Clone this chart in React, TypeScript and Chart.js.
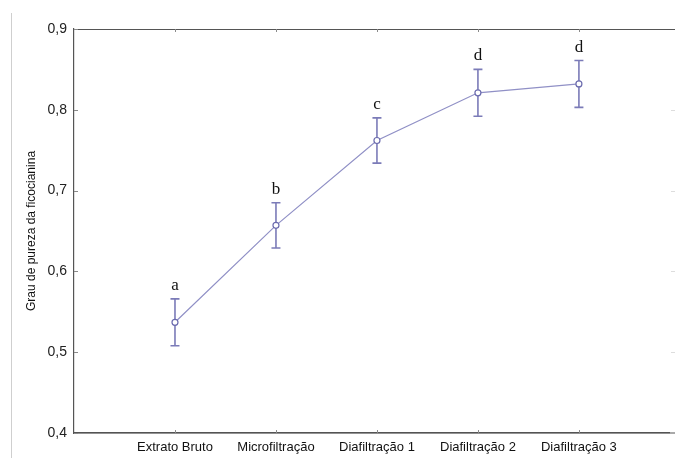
import React, { useEffect, useRef } from "react";
import { Chart, registerables } from "chart.js";

Chart.register(...registerables);

const categories = ["Extrato Bruto", "Microfiltração", "Diafiltração 1", "Diafiltração 2", "Diafiltração 3"];
const means = [0.537, 0.657, 0.762, 0.821, 0.832];
const errors = [0.029, 0.028, 0.028, 0.029, 0.029];
const letters = ["a", "b", "c", "d", "d"];
const yTicks = [0.4, 0.5, 0.6, 0.7, 0.8, 0.9];
const yTitle = "Grau de pureza da ficocianina";

const AXIS = "#555555";
const BAR = "#7b7bb8";
const LINE = "#9090c6";
const PT = "#6b6bae";

const decorPlugin = {
  id: "decor",
  beforeDatasetsDraw(chart: any) {
    const { ctx, chartArea, scales } = chart;
    const xs = scales.x;
    const ys = scales.y;
    ctx.save();
    // page-edge grey line
    ctx.strokeStyle = "#cfcfcf";
    ctx.lineWidth = 1;
    ctx.beginPath();
    ctx.moveTo(11.5, 13);
    ctx.lineTo(11.5, chart.height);
    ctx.stroke();
    // top and bottom frame to the page edge
    ctx.strokeStyle = AXIS;
    ctx.lineWidth = 1.2;
    ctx.beginPath();
    ctx.moveTo(chartArea.left, chartArea.top + 0.5);
    ctx.lineTo(chart.width, chartArea.top + 0.5);
    ctx.moveTo(chartArea.left, chartArea.bottom);
    ctx.lineTo(chart.width, chartArea.bottom);
    ctx.stroke();
    // inner ticks
    ctx.strokeStyle = "#8a8a8a";
    ctx.lineWidth = 1;
    ctx.beginPath();
    yTicks.forEach((v) => {
      const y = Math.round(ys.getPixelForValue(v)) + 0.5;
      ctx.moveTo(chartArea.left, y);
      ctx.lineTo(chartArea.left + 4, y);
    });
    categories.forEach((_, i) => {
      const x = Math.round(xs.getPixelForValue(i + 1)) + 0.5;
      ctx.moveTo(x, chartArea.bottom);
      ctx.lineTo(x, chartArea.bottom - 3);
      ctx.moveTo(x, chartArea.top);
      ctx.lineTo(x, chartArea.top + 3);
    });
    ctx.stroke();
    ctx.strokeStyle = "#dddddd";
    ctx.beginPath();
    yTicks.slice(1, -1).forEach((v) => {
      const y = Math.round(ys.getPixelForValue(v)) + 0.5;
      ctx.moveTo(chart.width, y);
      ctx.lineTo(chart.width - 4, y);
    });
    ctx.stroke();
    // error bars
    ctx.strokeStyle = BAR;
    ctx.lineWidth = 1.6;
    ctx.beginPath();
    means.forEach((m, i) => {
      const x = xs.getPixelForValue(i + 1);
      const yt = ys.getPixelForValue(m + errors[i]);
      const yb = ys.getPixelForValue(m - errors[i]);
      ctx.moveTo(x, yt);
      ctx.lineTo(x, yb);
      ctx.moveTo(x - 4.5, yt);
      ctx.lineTo(x + 4.5, yt);
      ctx.moveTo(x - 4.5, yb);
      ctx.lineTo(x + 4.5, yb);
    });
    ctx.stroke();
    // letters
    ctx.fillStyle = "#111111";
    ctx.font = "17px 'Liberation Serif', serif";
    ctx.textAlign = "center";
    ctx.textBaseline = "alphabetic";
    letters.forEach((l, i) => {
      const x = xs.getPixelForValue(i + 1);
      const yt = ys.getPixelForValue(means[i] + errors[i]);
      ctx.fillText(l, x, yt - 9);
    });
    ctx.restore();
  },
};

export default function App() {
  const ref = useRef<HTMLCanvasElement>(null);
  useEffect(() => {
    if (!ref.current) return;
    const chart = new Chart(ref.current, {
      type: "line",
      data: {
        datasets: [
          {
            data: means.map((m, i) => ({ x: i + 1, y: m })),
            borderColor: LINE,
            borderWidth: 1.2,
            pointRadius: 3,
            pointBackgroundColor: "#ffffff",
            pointBorderColor: PT,
            pointBorderWidth: 1.2,
            tension: 0,
          },
        ],
      },
      options: {
        responsive: false,
        animation: false,
        layout: { padding: { top: 29, left: 0, right: 0, bottom: 0 } },
        plugins: { legend: { display: false }, tooltip: { enabled: false } },
        scales: {
          x: {
            type: "linear",
            min: 0,
            max: 5.9,
            afterBuildTicks: (s: any) => {
              s.ticks = categories.map((_, i) => ({ value: i + 1 }));
            },
            afterFit: (s: any) => {
              s.height = 25;
            },
            ticks: {
              autoSkip: false,
              maxRotation: 0,
              padding: 7,
              color: "#111111",
              font: { family: "'Liberation Sans', Arial, sans-serif", size: 13 },
              callback: (v: any) => categories[Math.round(v) - 1] ?? "",
            },
            grid: { display: true, drawOnChartArea: false, drawTicks: false },
            border: { display: true, color: AXIS, width: 1.2 },
          },
          y: {
            type: "linear",
            min: 0.4,
            max: 0.9,
            afterBuildTicks: (s: any) => {
              s.ticks = yTicks.map((v) => ({ value: v }));
            },
            afterFit: (s: any) => {
              s.width = 74;
            },
            ticks: {
              padding: 7,
              color: "#222222",
              font: { family: "'Liberation Sans', Arial, sans-serif", size: 14 },
              callback: (v: any) => Number(v).toFixed(1).replace(".", ","),
            },
            title: {
              display: true,
              text: yTitle,
              color: "#111111",
              font: { family: "'Liberation Sans', Arial, sans-serif", size: 12 },
              padding: { top: 24, bottom: 0 },
            },
            grid: { display: true, drawOnChartArea: false, drawTicks: false },
            border: { display: true, color: AXIS, width: 1.2 },
          },
        },
      },
      plugins: [decorPlugin],
    } as any);
    return () => chart.destroy();
  }, []);
  return (
    <div style={{ position: "absolute", left: 0, top: 0, width: 675, height: 458, background: "#fff" }}>
      <canvas ref={ref} width={675} height={458} />
    </div>
  );
}
